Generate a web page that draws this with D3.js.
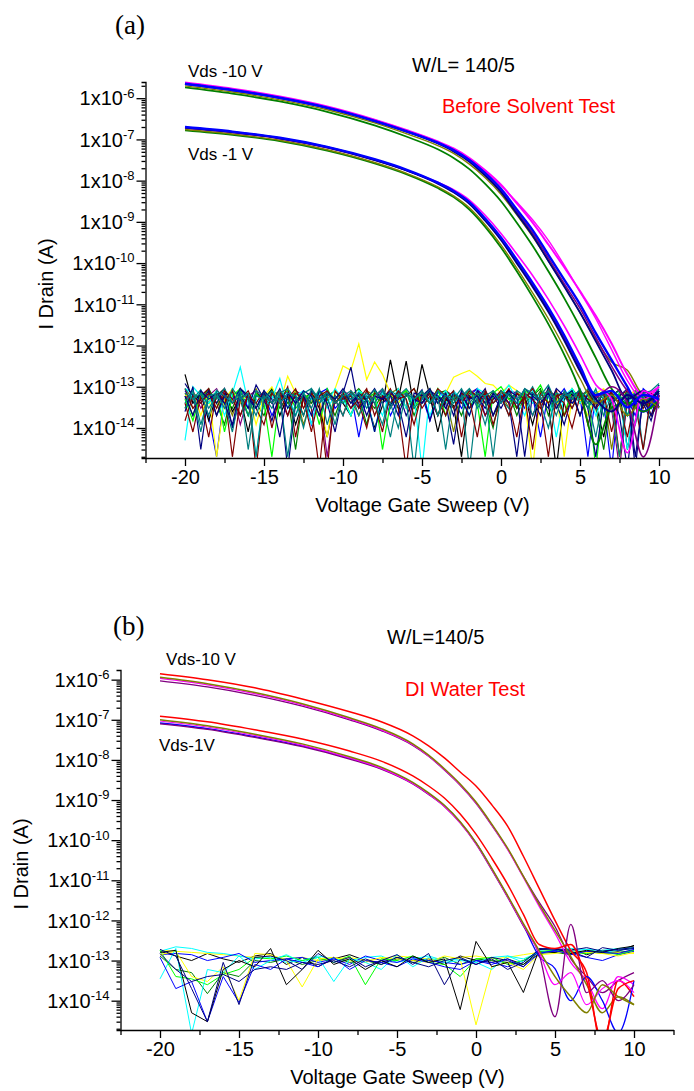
<!DOCTYPE html>
<html>
<head>
<meta charset="utf-8">
<script src="https://cdn.jsdelivr.net/npm/d3@7"></script>
<style>
  body { margin: 0; background: #fff; }
  text { font-family: "Liberation Sans", Arial, sans-serif; fill: #000; }
</style>
</head>
<body>
<svg id="chart" width="694" height="1091"></svg>
<script>
/**
 * Transfer curves (I drain vs gate sweep) before / after DI water test.
 */

/*** shared axis values ***/
const xTicks = [-20, -15, -10, -5, 0, 5, 10];
const xMinorTicks = [-22.5, -17.5, -12.5, -7.5, -2.5, 2.5, 7.5, 12.5];
const yExponents = [-6, -7, -8, -9, -10, -11, -12, -13, -14];

/*** drain curves: log10(I) at these gate voltages ***/
const gateSteps = [-20, -17, -14, -11, -8, -6, -4, -3, -2, -1, 0, 1, 2, 3, 4, 5, 6, 7, 8, 9, 10];

// panel (a) - before solvent test, Vds -10 V
const aVd10Green   = [-5.74, -5.89, -6.08, -6.33, -6.66, -6.93, -7.24, -7.45, -7.72, -8.08, -8.50, -9.02, -9.58, -10.20, -10.85, -11.55, -12.30, -13.05, -13.40, -13.20, -13.50];
const aVd10Olive   = [-5.70, -5.85, -6.04, -6.28, -6.60, -6.86, -7.15, -7.34, -7.60, -7.93, -8.33, -8.83, -9.36, -9.95, -10.55, -11.20, -11.85, -12.40, -12.60, -13.20, -13.30];
const aVd10Purple  = [-5.65, -5.80, -5.99, -6.23, -6.55, -6.80, -7.09, -7.28, -7.52, -7.85, -8.24, -8.75, -9.27, -9.88, -10.50, -11.10, -11.80, -12.50, -13.10, -13.40, -13.30];
const aVd10Magenta = [-5.62, -5.77, -5.96, -6.20, -6.52, -6.77, -7.05, -7.22, -7.45, -7.75, -8.10, -8.55, -9.02, -9.55, -10.10, -10.68, -11.28, -11.95, -12.70, -13.20, -13.00];
const aVd10Pink    = [-5.63, -5.78, -5.97, -6.21, -6.53, -6.78, -7.06, -7.24, -7.47, -7.78, -8.12, -8.52, -8.95, -9.45, -10.05, -10.70, -11.35, -12.10, -12.85, -13.30, -13.00];
const aVd10Navy    = [-5.66, -5.81, -6.00, -6.24, -6.56, -6.81, -7.10, -7.29, -7.54, -7.88, -8.28, -8.80, -9.33, -9.95, -10.57, -11.20, -11.90, -12.60, -13.30, -13.10, -13.50];
const aVd10Blue    = [-5.65, -5.80, -5.99, -6.23, -6.55, -6.80, -7.08, -7.26, -7.50, -7.82, -8.20, -8.70, -9.20, -9.80, -10.40, -11.00, -11.70, -12.35, -13.00, -13.60, -13.20];
// panel (a) - Vds -1 V
const aVd1Green    = [-6.78, -6.89, -7.04, -7.27, -7.58, -7.84, -8.18, -8.40, -8.70, -9.12, -9.62, -10.20, -10.82, -11.48, -12.22, -13.10, -14.40, -13.50, -13.40, -13.60, -13.30];
const aVd1Olive    = [-6.76, -6.87, -7.02, -7.25, -7.56, -7.82, -8.15, -8.37, -8.66, -9.07, -9.56, -10.12, -10.72, -11.35, -12.05, -12.80, -13.40, -13.20, -13.70, -13.30, -13.50];
const aVd1Magenta  = [-6.71, -6.82, -6.97, -7.19, -7.49, -7.74, -8.04, -8.22, -8.47, -8.84, -9.28, -9.78, -10.30, -10.88, -11.52, -12.22, -12.95, -13.30, -14.60, -13.10, -13.40];
const aVd1Purple   = [-6.72, -6.83, -6.98, -7.20, -7.50, -7.75, -8.06, -8.27, -8.54, -8.94, -9.41, -9.96, -10.52, -11.13, -11.80, -12.55, -13.25, -13.00, -13.40, -14.70, -13.20];
const aVd1Navy     = [-6.71, -6.82, -6.97, -7.19, -7.50, -7.75, -8.07, -8.28, -8.56, -8.97, -9.44, -10.00, -10.57, -11.18, -11.87, -12.62, -13.30, -13.60, -13.20, -13.40, -13.10];
const aVd1Blue     = [-6.70, -6.81, -6.96, -7.18, -7.48, -7.73, -8.05, -8.25, -8.52, -8.92, -9.38, -9.92, -10.48, -11.08, -11.75, -12.50, -13.20, -13.10, -13.50, -13.20, -13.30];

// panel (b) - DI water test, Vds -10 V
const bVd10Purple  = [-6.03, -6.18, -6.39, -6.66, -7.00, -7.27, -7.64, -7.91, -8.25, -8.63, -9.08, -9.63, -10.22, -10.90, -11.55, -12.15, -12.95, -13.40, -13.80, -13.50, -13.30];
const bVd10Magenta = [-5.97, -6.13, -6.35, -6.63, -6.98, -7.25, -7.62, -7.90, -8.24, -8.62, -9.07, -9.62, -10.23, -10.93, -11.65, -12.32, -13.05, -13.50, -14.20, -13.40, -13.60];
const bVd10Olive   = [-5.94, -6.10, -6.32, -6.60, -6.95, -7.22, -7.60, -7.88, -8.22, -8.60, -9.05, -9.60, -10.20, -10.90, -11.60, -12.25, -12.90, -13.60, -14.30, -13.90, -14.10];
const bVd10Red     = [-5.85, -6.00, -6.20, -6.48, -6.80, -7.05, -7.40, -7.65, -7.95, -8.30, -8.65, -9.12, -9.65, -10.40, -11.20, -12.00, -12.75, -13.30, -15.20, -13.50, -13.90];
// panel (b) - Vds -1 V
const bVd1Purple   = [-7.10, -7.24, -7.44, -7.67, -7.98, -8.23, -8.60, -8.86, -9.16, -9.57, -10.09, -10.74, -11.42, -12.14, -12.85, -14.40, -12.10, -13.80, -13.50, -14.00, -13.60];
const bVd1Blue     = [-7.08, -7.22, -7.42, -7.65, -7.96, -8.21, -8.58, -8.84, -9.14, -9.55, -10.07, -10.72, -11.40, -12.12, -12.90, -13.20, -14.00, -13.40, -14.00, -14.80, -13.50];
const bVd1Magenta  = [-7.03, -7.18, -7.39, -7.63, -7.95, -8.21, -8.59, -8.85, -9.16, -9.57, -10.09, -10.73, -11.41, -12.11, -12.80, -13.60, -13.30, -14.10, -13.70, -13.50, -13.80];
const bVd1Olive    = [-7.00, -7.15, -7.36, -7.60, -7.92, -8.18, -8.56, -8.82, -9.13, -9.54, -10.06, -10.70, -11.38, -12.08, -12.75, -13.40, -13.90, -14.30, -13.60, -13.90, -14.10];
const bVd1Red      = [-6.91, -7.05, -7.25, -7.48, -7.78, -8.03, -8.40, -8.65, -8.95, -9.35, -9.85, -10.45, -11.10, -11.85, -12.60, -12.70, -12.60, -13.50, -15.00, -13.70, -13.50];

/*** gate leakage noise, in fA ***/
// panel (a): one value every 0.5 V from -20 to 10
const sweepA = d3.range(-20, 10.001, 0.5);
const aNoiseBlack  = [200, 40, 70, 15, 60, 90, 25, 55, 8, 70, 45, 85, 20, 60, 12, 50, 75, 30, 6, 60, 40, 20, 70, 45, 10, 35, 450, 50, 420, 30, 350, 60, 8, 50, 35, 2, 60, 40, 75, 20, 50, 85, 30, 60, 12, 70, 40, 1, 50, 65, 20, 70, 40, 6, 60, 85, 3, 50, 35, 70, 45];
const aNoiseNavy   = [25, 100, 3, 70, 40, 90, 10, 60, 30, 110, 50, 15, 70, 1, 40, 60, 20, 80, 40, 8, 70, 300, 30, 50, 8, 60, 35, 75, 20, 50, 85, 15, 60, 40, 4, 70, 30, 50, 90, 20, 60, 40, 2, 70, 50, 20, 100, 40, 12, 60, 80, 30, 2, 50, 70, 20, 1, 60, 40, 15, 70];
const aNoiseTeal   = [70, 50, 85, 30, 60, 40, 8, 70, 50, 20, 80, 40, 60, 2, 50, 70, 30, 90, 12, 60, 40, 70, 20, 50, 85, 40, 6, 60, 70, 30, 50, 90, 20, 60, 40, 70, 1, 50, 80, 40, 60, 20, 70, 50, 100, 40, 10, 70, 60, 30, 80, 50, 6, 70, 40, 60, 20, 80, 3, 50, 60];
const aNoiseWine   = [40, 8, 60, 90, 20, 70, 2, 50, 80, 30, 12, 70, 40, 100, 6, 60, 30, 1, 70, 50, 20, 80, 40, 10, 70, 50, 90, 30, 1, 60, 40, 70, 20, 50, 80, 6, 60, 40, 70, 12, 50, 90, 30, 60, 3, 70, 40, 80, 20, 50, 70, 12, 60, 40, 80, 2, 50, 70, 30, 60, 40];
const aNoiseYellow = [60, 80, 20, 70, 2, 50, 90, 40, 70, 12, 60, 100, 40, 180, 70, 20, 80, 50, 6, 90, 320, 250, 1100, 150, 400, 200, 70, 40, 80, 30, 60, 90, 40, 70, 170, 210, 250, 180, 120, 110, 70, 110, 80, 50, 1, 70, 40, 80, 2, 60, 50, 20, 70, 90, 40, 2, 60, 80, 30, 70, 100];
const aNoiseCyan   = [5, 100, 60, 40, 80, 20, 70, 300, 40, 2, 70, 50, 160, 30, 60, 80, 12, 70, 40, 90, 50, 20, 80, 60, 8, 70, 40, 90, 30, 60, 1, 70, 50, 80, 40, 60, 20, 90, 70, 40, 60, 110, 50, 20, 80, 40, 70, 6, 60, 90, 40, 70, 20, 60, 80, 50, 3, 70, 40, 60, 80];
const aNoiseLime   = [50, 15, 70, 40, 80, 8, 60, 90, 20, 70, 40, 2, 60, 80, 30, 50, 70, 12, 90, 40, 60, 20, 80, 50, 70, 3, 40, 60, 80, 30, 70, 40, 90, 20, 60, 50, 80, 40, 2, 70, 100, 50, 30, 80, 60, 110, 40, 70, 20, 90, 50, 80, 1, 60, 40, 70, 20, 80, 50, 30, 70];
const aNoiseBlue   = [80, 40, 60, 20, 2, 70, 50, 90, 30, 60, 70, 20, 50, 80, 40, 60, 12, 70, 90, 30, 50, 70, 6, 60, 40, 80, 20, 50, 70, 40, 60, 15, 80, 50, 70, 30, 60, 90, 20, 50, 70, 40, 80, 30, 60, 6, 70, 50, 90, 40, 60, 2, 70, 40, 1, 80, 50, 20, 90, 60, 30];
const aNoiseGreen  = [30, 70, 50, 90, 40, 12, 80, 60, 20, 70, 50, 90, 30, 60, 3, 70, 40, 80, 50, 20, 70, 40, 60, 12, 80, 50, 70, 30, 60, 90, 40, 70, 20, 80, 50, 60, 30, 70, 40, 10, 80, 50, 70, 40, 60, 90, 20, 70, 50, 80, 40, 70, 30, 3, 60, 40, 80, 50, 70, 30, 60];
const aNoiseTeal2  = [40, 80, 12, 60, 70, 30, 90, 50, 70, 2, 60, 40, 80, 50, 20, 70, 90, 40, 60, 12, 80, 50, 70, 30, 60, 90, 40, 10, 70, 50, 80, 40, 60, 3, 70, 50, 90, 30, 60, 80, 40, 70, 50, 80, 20, 60, 110, 40, 70, 50, 90, 30, 60, 80, 40, 2, 70, 50, 80, 40, 90];
const aNoiseWine2  = [15, 60, 40, 70, 30, 80, 50, 20, 70, 1, 60, 40, 80, 20, 70, 50, 8, 60, 80, 40, 70, 30, 50, 90, 20, 60, 40, 80, 50, 12, 70, 40, 90, 60, 30, 70, 50, 6, 80, 40, 60, 20, 70, 50, 90, 40, 2, 60, 70, 30, 80, 50, 40, 70, 8, 60, 80, 40, 3, 70, 50];
const aNoiseNavy2  = [60, 20, 80, 50, 70, 40, 12, 90, 60, 30, 80, 50, 6, 70, 40, 80, 60, 20, 70, 50, 90, 40, 70, 20, 60, 50, 80, 40, 6, 70, 60, 90, 40, 70, 20, 80, 50, 60, 30, 70, 40, 80, 60, 2, 70, 50, 30, 90, 60, 80, 20, 70, 50, 80, 40, 60, 90, 1, 70, 40, 110];
const aNoiseOlive  = [70, 30, 50, 80, 40, 60, 20, 70, 50, 90, 30, 60, 80, 40, 70, 12, 50, 80, 60, 40, 70, 50, 20, 80, 60, 40, 70, 90, 30, 60, 50, 80, 40, 60, 8, 70, 50, 80, 60, 40, 70, 30, 80, 50, 60, 40, 90, 50, 20, 70, 60, 80, 40, 70, 3, 50, 60, 80, 30, 70, 50];
const aNoiseTeal3  = [90, 50, 70, 20, 80, 60, 40, 80, 3, 60, 50, 80, 40, 70, 60, 20, 90, 50, 70, 40, 60, 80, 50, 70, 40, 12, 80, 60, 90, 50, 70, 40, 80, 60, 50, 90, 40, 70, 60, 2, 80, 60, 40, 90, 70, 50, 80, 40, 60, 70, 50, 90, 40, 70, 80, 60, 40, 12, 70, 80, 120];
const aNoisePurple = [50, 80, 30, 60, 90, 40, 70, 12, 60, 80, 40, 70, 50, 20, 80, 60, 40, 70, 2, 50, 80, 60, 40, 70, 50, 90, 30, 60, 80, 40, 70, 50, 20, 80, 60, 40, 70, 90, 50, 60, 40, 80, 70, 50, 20, 60, 80, 40, 70, 50, 80, 40, 60, 70, 30, 1, 50, 70, 40, 80, 60];
const aNoiseTeal4  = [30, 60, 8, 70, 50, 90, 40, 60, 20, 80, 60, 30, 70, 90, 50, 10, 60, 40, 80, 50, 20, 70, 50, 60, 40, 80, 30, 70, 50, 1, 60, 80, 40, 70, 30, 60, 90, 50, 12, 70, 50, 30, 80, 60, 70, 40, 60, 20, 80, 50, 70, 40, 90, 20, 60, 80, 50, 70, 40, 60, 70];
const aNoiseWine3  = [90, 30, 50, 6, 70, 40, 80, 20, 60, 40, 80, 10, 60, 50, 90, 30, 70, 40, 1, 80, 50, 60, 30, 80, 40, 8, 70, 50, 60, 90, 30, 60, 50, 20, 70, 40, 80, 60, 20, 50, 80, 40, 6, 70, 50, 30, 80, 60, 40, 10, 60, 80, 30, 50, 70, 40, 6, 60, 80, 20, 50];
const aNoiseGreen2 = [60, 20, 80, 40, 70, 50, 30, 90, 60, 40, 20, 80, 60, 40, 80, 50, 70, 20, 60, 80, 40, 60, 90, 50, 30, 70, 60, 40, 80, 20, 60, 40, 70, 80, 50, 20, 70, 60, 40, 80, 50, 70, 20, 60, 40, 80, 60, 30, 70, 40, 60, 30, 80, 50, 60, 40, 70, 40, 60, 20, 40];
const aNoiseNavy3  = [120, 60, 40, 80, 20, 60, 40, 90, 50, 30, 70, 40, 90, 30, 60, 20, 80, 50, 70, 40, 60, 30, 70, 50, 90, 40, 60, 20, 70, 50, 40, 80, 60, 30, 70, 50, 20, 80, 40, 60, 30, 70, 40, 90, 60, 40, 70, 30, 60, 40, 70, 50, 30, 80, 60, 40, 70, 2, 50, 20, 80];
const aNoiseCyan2  = [90, 70, 40, 60, 20, 50, 80, 40, 70, 50, 30, 60, 40, 70, 20, 60, 50, 80, 30, 60, 40, 70, 30, 60, 50, 20, 80, 40, 60, 50, 70, 20, 60, 40, 80, 50, 30, 70, 40, 60, 50, 80, 30, 60, 40, 70, 60, 30, 50, 80, 40, 60, 80, 30, 70, 50, 40, 70, 60, 30, 110];

// panel (b): one value every 1 V from -20 to 10
const sweepB = d3.range(-20, 10.001, 1);
const bNoiseBlack   = [160, 180, 5, 3, 60, 100, 70, 200, 25, 60, 180, 80, 110, 60, 100, 70, 130, 90, 110, 6, 300, 70, 90, 16, 190, 200, 150, 180, 160, 200, 230];
const bNoiseNavy    = [190, 130, 20, 3, 90, 8, 120, 130, 100, 60, 150, 90, 120, 70, 100, 140, 80, 150, 25, 110, 80, 120, 100, 70, 200, 190, 170, 120, 210, 180, 200];
const bNoiseBlue    = [140, 150, 140, 100, 120, 150, 90, 100, 110, 120, 90, 110, 80, 130, 100, 90, 120, 100, 90, 80, 100, 90, 70, 100, 160, 170, 150, 120, 100, 140, 170];
const bNoiseCyan    = [35, 200, 1.5, 60, 50, 130, 60, 100, 140, 90, 120, 30, 110, 90, 60, 140, 70, 120, 90, 100, 90, 60, 130, 90, 180, 200, 170, 190, 160, 180, 200];
const bNoiseYellow  = [140, 170, 40, 30, 70, 10, 150, 140, 100, 22, 110, 120, 100, 90, 120, 110, 100, 90, 130, 110, 2.5, 70, 90, 60, 140, 150, 170, 160, 150, 130, 160];
const bNoiseLime    = [180, 40, 35, 25, 45, 60, 120, 110, 130, 100, 120, 90, 130, 25, 110, 100, 130, 90, 80, 40, 110, 120, 80, 100, 170, 180, 160, 150, 170, 140, 180];
const bNoiseGreen   = [130, 60, 50, 15, 50, 40, 100, 90, 110, 80, 100, 120, 90, 100, 80, 110, 90, 100, 120, 80, 110, 100, 90, 80, 150, 160, 140, 170, 150, 160, 180];
const bNoiseBlack2  = [170, 130, 100, 150, 110, 90, 130, 150, 80, 120, 70, 110, 140, 100, 90, 120, 100, 110, 80, 130, 100, 90, 110, 80, 170, 160, 200, 140, 180, 170, 240];
const bNoiseNavy2   = [150, 60, 30, 40, 45, 30, 60, 70, 60, 90, 80, 100, 70, 110, 80, 120, 90, 70, 100, 120, 80, 110, 60, 90, 190, 200, 180, 210, 170, 190, 210];
const bNoiseCyan2   = [170, 220, 200, 160, 150, 130, 110, 120, 90, 100, 130, 110, 100, 120, 130, 90, 110, 130, 100, 110, 90, 120, 130, 110, 160, 180, 200, 190, 180, 200, 210];
const bNoiseYellow2 = [180, 170, 160, 150, 140, 130, 120, 130, 110, 120, 100, 110, 120, 100, 110, 130, 120, 110, 100, 120, 130, 110, 120, 140, 160, 170, 150, 160, 170, 160, 150];
const bNoiseBlue2   = [120, 20, 30, 3, 40, 9, 80, 60, 110, 90, 70, 120, 60, 100, 90, 70, 110, 90, 70, 60, 100, 80, 110, 70, 150, 180, 140, 170, 160, 150, 190];


/*** panel layouts ***/
const panelA = {
	id: "a",
	left: 145.5, top: 82, bottom: 458,
	yLimits: [2.47e-6, 1.87e-15],
	noiseSweep: sweepA,
	noiseWidth: 1.2,
	noise: [
		[aNoiseOlive, "#808000"], [aNoisePurple, "#800080"], [aNoiseGreen2, "#008000"],
		[aNoiseBlue, "#0000ff"], [aNoiseCyan2, "#00ffff"], [aNoiseGreen, "#008000"],
		[aNoiseBlack, "#000000"], [aNoiseYellow, "#ffff00"], [aNoiseLime, "#00ff00"],
		[aNoiseCyan, "#00ffff"], [aNoiseWine, "#800000"], [aNoiseNavy, "#000080"],
		[aNoiseTeal4, "#008080"], [aNoiseWine3, "#800000"], [aNoiseNavy3, "#000080"],
		[aNoiseTeal, "#008080"], [aNoiseWine2, "#800000"], [aNoiseNavy2, "#000080"],
		[aNoiseTeal2, "#008080"], [aNoiseTeal3, "#008080"]
	],
	drain: [
		[aVd10Green, "#008000", 1.8], [aVd10Olive, "#808000", 1.4], [aVd10Pink, "#ff00ff", 1.4],
		[aVd10Magenta, "#ff00ff", 2.0], [aVd10Purple, "#800080", 1.6], [aVd10Navy, "#000080", 1.8],
		[aVd10Blue, "#0000ff", 2.4],
		[aVd1Green, "#008000", 1.8], [aVd1Olive, "#808000", 1.4], [aVd1Magenta, "#ff00ff", 1.6],
		[aVd1Purple, "#800080", 1.6], [aVd1Navy, "#000080", 2.0], [aVd1Blue, "#0000ff", 2.4]
	],
	title: {text: "(a)", x: 115, y: 34},
	notes: [
		{text: "W/L= 140/5", x: 412, y: 72, size: 20, color: "#000"},
		{text: "Vds -10 V", x: 188, y: 77, size: 17, color: "#000"},
		{text: "Before Solvent Test", x: 442, y: 113, size: 20, color: "#ff0000"},
		{text: "Vds -1 V", x: 188, y: 160, size: 17, color: "#000"}
	]
};

const panelB = {
	id: "b",
	left: 120.5, top: 670, bottom: 1030,
	yLimits: [1.74e-6, 1.86e-15],
	noiseSweep: sweepB,
	noiseWidth: 1,
	noise: [
		[bNoiseGreen, "#008000"], [bNoiseBlack2, "#000000"], [bNoiseYellow2, "#ffff00"],
		[bNoiseCyan2, "#00ffff"], [bNoiseBlue, "#0000ff"], [bNoiseLime, "#00ff00"],
		[bNoiseYellow, "#ffff00"], [bNoiseCyan, "#00ffff"], [bNoiseBlue2, "#0000ff"],
		[bNoiseBlack, "#000000"], [bNoiseNavy2, "#000080"], [bNoiseNavy, "#000080"]
	],
	drain: [
		[bVd10Purple, "#800080", 1.3], [bVd10Magenta, "#ff00ff", 1.3], [bVd10Olive, "#808000", 1.5],
		[bVd10Red, "#ff0000", 1.5],
		[bVd1Blue, "#0000ff", 1.3], [bVd1Purple, "#800080", 1.3], [bVd1Magenta, "#ff00ff", 1.2],
		[bVd1Olive, "#808000", 1.5], [bVd1Red, "#ff0000", 1.5]
	],
	title: {text: "(b)", x: 113, y: 635},
	notes: [
		{text: "W/L=140/5", x: 387, y: 644, size: 20, color: "#000"},
		{text: "Vds-10 V", x: 166, y: 665, size: 17, color: "#000"},
		{text: "DI Water Test", x: 405, y: 696, size: 20, color: "#ff0000"},
		{text: "Vds-1V", x: 159, y: 751, size: 17, color: "#000"}
	]
};


function drawPanel(svg, p) {
	const x = d3.scaleLinear().domain([-22.5, 12.5]).range([p.left, p.left + 35 * 15.8]);
	const y = d3.scaleLog().domain(p.yLimits).range([p.top, p.bottom]);

	svg.append("clipPath").attr("id", "clip-" + p.id)
		.append("rect")
		.attr("x", p.left).attr("y", p.top - 2)
		.attr("width", 35 * 15.8).attr("height", p.bottom - p.top + 2);

	const plot = svg.append("g").attr("clip-path", "url(#clip-" + p.id + ")");

	// gate leakage noise (fA -> A)
	const noiseLine = d3.line()
		.x((d, i) => x(p.noiseSweep[i]))
		.y(d => y(d * 1e-15));
	plot.selectAll(".noise")
		.data(p.noise)
		.join("path")
		.attr("class", "noise")
		.attr("fill", "none")
		.attr("stroke", d => d[1])
		.attr("stroke-width", p.noiseWidth)
		.attr("d", d => noiseLine(d[0]));

	// drain current curves (log10 A)
	const drainLine = d3.line()
		.x((d, i) => x(gateSteps[i]))
		.y(d => y(Math.pow(10, d)))
		.curve(d3.curveMonotoneX);
	plot.selectAll(".drain")
		.data(p.drain)
		.join("path")
		.attr("class", "drain")
		.attr("fill", "none")
		.attr("stroke", d => d[1])
		.attr("stroke-width", d => d[2])
		.attr("d", d => drainLine(d[0]));

	/*** axes ***/
	const [hi, lo] = p.yLimits;
	const yMinor = [];
	for (let e = -15; e <= -6; e++) {
		for (let k = 2; k <= 9; k++) {
			const v = k * Math.pow(10, e);
			if (v <= hi && v >= lo) yMinor.push(v);
		}
	}
	const yMajor = yExponents.map(e => Math.pow(10, e));

	const axisStyle = g => {
		g.selectAll("path, line").attr("stroke", "#000").attr("stroke-width", 1.3);
	};

	svg.append("g")
		.attr("transform", "translate(" + p.left + ",0)")
		.call(d3.axisLeft(y).tickValues(yMinor).tickSize(4).tickFormat(""))
		.call(axisStyle);
	svg.append("g")
		.attr("transform", "translate(" + p.left + ",0)")
		.call(d3.axisLeft(y).tickValues(yMajor).tickSize(9).tickSizeOuter(0).tickFormat(""))
		.call(axisStyle)
		.select(".domain").remove();

	const yLabels = svg.append("g").selectAll("text")
		.data(yExponents)
		.join("text")
		.attr("x", p.left - 11)
		.attr("y", d => y(Math.pow(10, d)))
		.attr("dy", "0.36em")
		.attr("text-anchor", "end")
		.style("font-size", "20px");
	yLabels.append("tspan").text("1x10");
	yLabels.append("tspan")
		.attr("dy", "-0.6em")
		.style("font-size", "13px")
		.text(d => String(d));

	svg.append("g")
		.attr("transform", "translate(0," + p.bottom + ")")
		.call(d3.axisBottom(x).tickValues(xMinorTicks).tickSize(5).tickSizeOuter(0).tickFormat(""))
		.call(axisStyle);
	svg.append("g")
		.attr("transform", "translate(0," + p.bottom + ")")
		.call(d3.axisBottom(x).tickValues(xTicks).tickSize(8).tickPadding(4).tickFormat(d => String(d)))
		.call(axisStyle)
		.call(g => g.select(".domain").remove())
		.call(g => g.selectAll("text")
			.attr("fill", "#000")
			.style("font-size", "20px")
			.style("font-family", "'Liberation Sans', Arial, sans-serif"));

	// axis titles
	svg.append("text")
		.attr("x", p.left + 277)
		.attr("y", p.bottom + 54)
		.attr("text-anchor", "middle")
		.style("font-size", "20px")
		.text("Voltage Gate Sweep (V)");
	svg.append("text")
		.attr("transform", "translate(" + (p.left - 93) + "," + ((p.top + p.bottom) / 2 + 14) + ") rotate(-90)")
		.attr("text-anchor", "middle")
		.style("font-size", "20px")
		.text("I Drain (A)");

	// panel letter and notes
	svg.append("text")
		.attr("x", p.title.x).attr("y", p.title.y)
		.style("font-family", "'Liberation Serif', 'Times New Roman', serif")
		.style("font-size", "27px")
		.text(p.title.text);
	svg.selectAll(".note-" + p.id)
		.data(p.notes)
		.join("text")
		.attr("class", "note-" + p.id)
		.attr("x", d => d.x).attr("y", d => d.y)
		.style("font-size", d => d.size + "px")
		.style("fill", d => d.color)
		.text(d => d.text);
}

const svg = d3.select("#chart");
drawPanel(svg, panelA);
drawPanel(svg, panelB);
</script>
</body>
</html>
